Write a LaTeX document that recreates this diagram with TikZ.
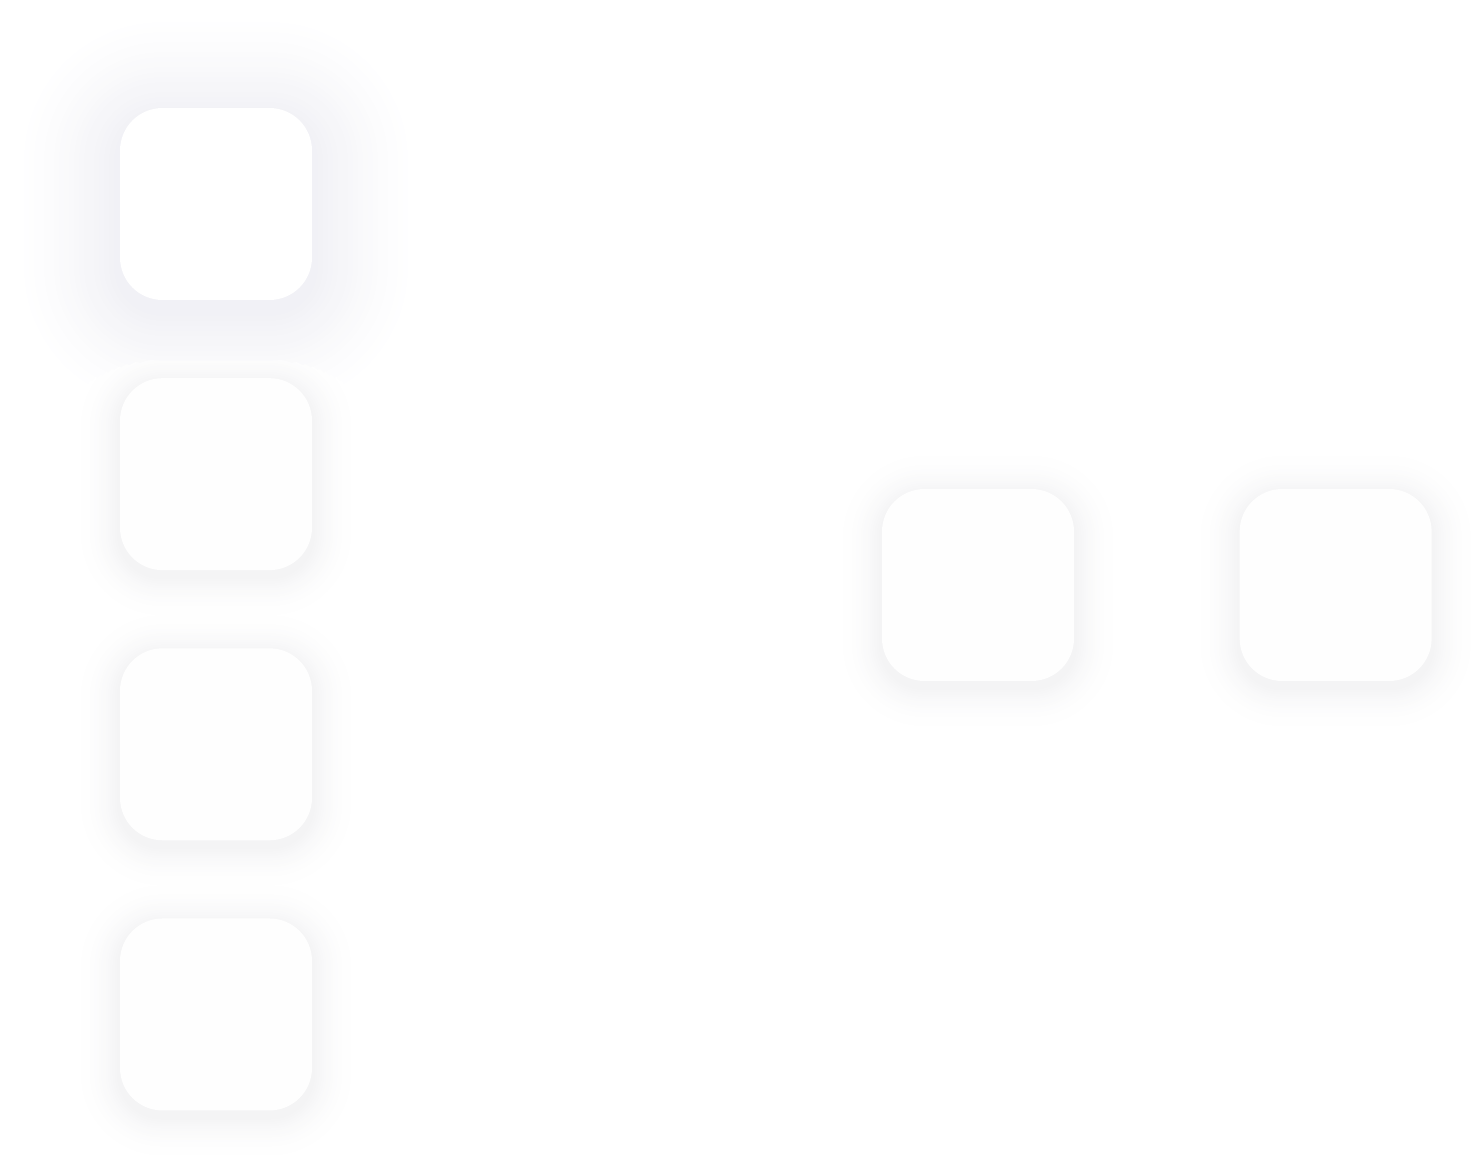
\documentclass[tikz,border=0pt]{standalone}
\usepackage{tikz}
\usetikzlibrary{positioning,backgrounds}
\definecolor{haloblue}{RGB}{208,208,224}
\definecolor{halogray}{RGB}{212,212,218}
\definecolor{tilefill}{RGB}{254,254,254}
\tikzset{
	tile/.style={draw=none, fill=tilefill, minimum width=3.84cm, minimum height=3.84cm, rounded corners=0.85cm, inner sep=0pt}
}

\begin{document}
\begin{tikzpicture}[x=0.02cm, y=-0.02cm]
		\useasboundingbox (0,0) rectangle (1476,1155);

		% left column of tiles
		\node[tile, fill=white] (tileA) at (216,204) {};
		\node[tile, below=1.55cm of tileA] (tileB) {};
		\node[tile, below=1.55cm of tileB] (tileC) {};
		\node[tile, below=1.55cm of tileC] (tileD) {};

		% right pair of tiles
		\node[tile] (tileE) at (978,585) {};
		\node[tile, right=3.3cm of tileE] (tileF) {};

		% -----------------------------------------------------
		% shadows: rings from light (outside) to dark (inside)
		\begin{scope}[on background layer]
		\fill[white] (0,0) rectangle (1476,1155);
		\foreach \j in {1,...,20}{
			% wide halo round the first tile
			\pgfmathsetmacro{\ee}{(21-\j)*0.1}
			\pgfmathsetmacro{\rr}{0.85+\ee}
			\pgfmathsetmacro{\pp}{30*(\j/20)^1.4}
			\fill[haloblue!\pp!white, rounded corners=\rr cm]
				([xshift=-\ee cm, yshift=-\ee cm-0.2cm]tileA.south west) rectangle ([xshift=\ee cm, yshift=\ee cm-0.2cm]tileA.north east);
			% small shadows round the other tiles
			\pgfmathsetmacro{\ee}{(21-\j)*0.045}
			\pgfmathsetmacro{\rr}{0.85+\ee}
			\pgfmathsetmacro{\pp}{26*(\j/20)^2}
			\foreach \nn in {tileB,tileC,tileD,tileE,tileF}{
				\fill[halogray!\pp!white, rounded corners=\rr cm]
					([xshift=-\ee cm, yshift=-\ee cm-0.12cm]\nn.south west) rectangle ([xshift=\ee cm, yshift=\ee cm-0.12cm]\nn.north east);
			}
		}
		\end{scope}

		\end{tikzpicture}
\end{document}
